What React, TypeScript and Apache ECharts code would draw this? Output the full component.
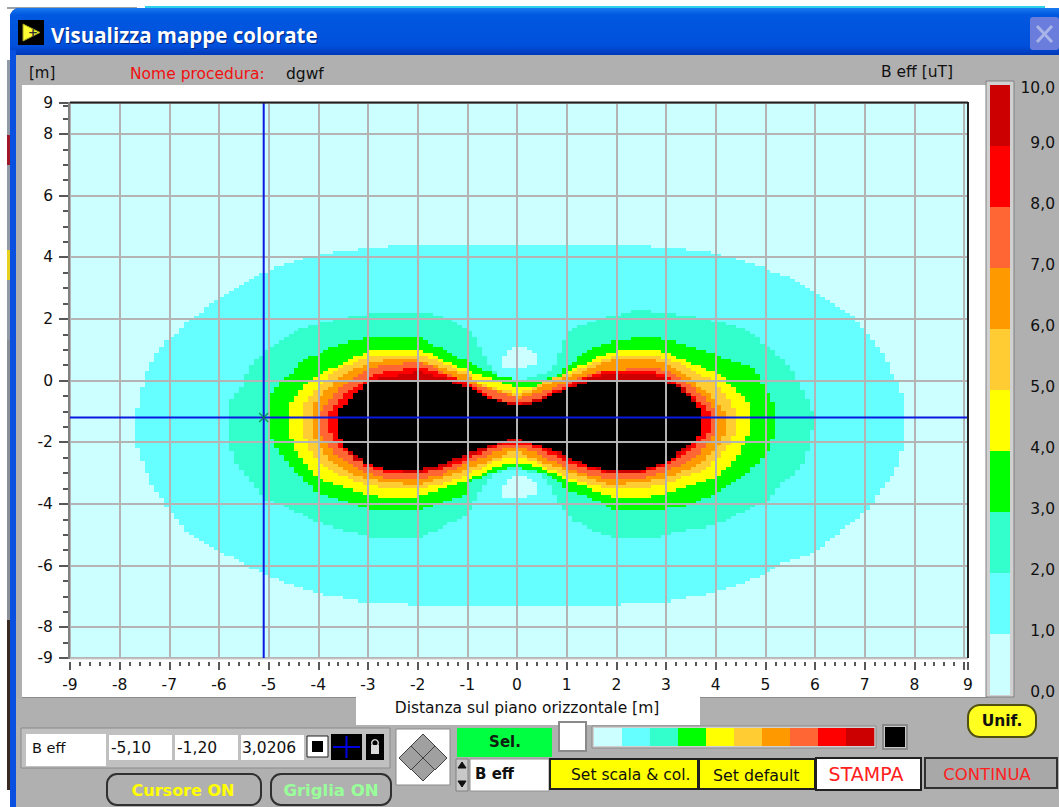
import React, { useEffect, useRef } from "react";
import * as echarts from "echarts";

type Pt = [number, number];

const xTickValues = [-9,-8,-7,-6,-5,-4,-3,-2,-1,0,1,2,3,4,5,6,7,8,9,9.08];
const yTickValues = [-9,-8,-6,-4,-2,0,2,4,6,8,9];
const yMinorValues = [-8.5,-7.5,-7,-6.5,-5.5,-5,-4.5,-3.5,-3,-2.5,-1.5,-1,-0.5,0.5,1,1.5,2.5,3,3.5,4.5,5,5.5,6.5,7,7.5,8.5,8.9];
const scaleLabels = ["0,0","1,0","2,0","3,0","4,0","5,0","6,0","7,0","8,0","9,0","10,0"];
const scaleColors = ["#ccffff","#66ffff","#33ffcc","#00ff00","#ffff00","#ffcc33","#ff9900","#ff6633","#ff0000","#cc0000"];
const overColor = "#000000";
const cursorX = -5.1;
const cursorY = -1.2;
const cursorValue = "3,0206";

// Contours of B eff: [distance m, height m]
const level1: Pt[] = [[0,4.42],[2.3,4.42],[3,4.32],[3.65,4.17],[4.2,3.96],[5,3.57],[5.45,3.25],[6,2.8],[6.67,2.05],[7.01,1.45],[7.3,1],[7.58,.02],[7.68,-.2],[7.78,-.72],[7.78,-2.05],[7.68,-2.65],[7.58,-3],[7.18,-3.85],[7.08,-4.2],[6.67,-4.75],[6,-5.6],[5.3,-6],[5,-6.3],[4.6,-6.6],[4,-6.86],[3,-7.19],[2.6,-7.25],[1.7,-7.3],[0,-7.3],[-1.7,-7.3],[-2.61,-7.25],[-2.98,-7.19],[-3.96,-6.86],[-4.63,-6.59],[-5,-6.32],[-5.4,-5.99],[-6,-5.55],[-6.61,-4.9],[-6.98,-4.24],[-7.11,-3.86],[-7.42,-3.2],[-7.62,-2.44],[-7.72,-2],[-7.72,-1.23],[-7.65,-.42],[-7.52,.24],[-7.32,.79],[-7.11,1.28],[-6.95,1.5],[-6.61,2.04],[-6.11,2.64],[-5.4,3.25],[-4.96,3.57],[-4.16,3.96],[-3.59,4.17],[-2.95,4.32],[-2.28,4.42]];
const blobUpper: Pt[] = [[-.31,.75],[-.14,1.07],[.14,1.07],[.38,.75],[.38,.46],[.2,.36],[-.2,.36],[-.31,.46]];
const blobLower: Pt[] = [[-.31,-3.45],[-.14,-3.1],[.14,-3.1],[.38,-3.45],[.38,-3.7],[.2,-3.8],[-.2,-3.8],[-.31,-3.7]];
const level2: Pt[] = [[0,.03],[.54,.19],[.74,.3],[.87,1.22],[1.04,1.6],[1.41,1.92],[1.88,2.14],[2.42,2.25],[3.36,2.13],[3.97,1.92],[4.58,1.55],[5.05,.95],[5.3,.65],[5.57,.05],[5.8,-.5],[5.89,-.92],[6.02,-1.25],[5.89,-2.1],[5.8,-2.6],[5.57,-3.1],[5.3,-3.4],[5.05,-3.86],[4.71,-4.18],[3.97,-4.72],[3.3,-4.95],[2.9,-5.06],[2,-5.06],[1.5,-4.84],[1.05,-4.46],[.85,-4.08],[.7,-3.48],[.45,-3.05],[0,-2.9],[-.45,-3.05],[-.7,-3.48],[-.86,-4.08],[-1.07,-4.46],[-1.54,-4.84],[-1.94,-5.06],[-2.95,-5.06],[-3.35,-4.95],[-3.96,-4.57],[-4.63,-4.13],[-4.96,-3.91],[-5.17,-3.58],[-5.7,-2.6],[-5.8,-2],[-5.82,-1.23],[-5.77,-.63],[-5.51,.02],[-5.4,.46],[-5.3,.68],[-5,1.11],[-4.63,1.5],[-4.19,1.77],[-3.59,2.04],[-2.95,2.21],[-2.48,2.24],[-1.94,2.19],[-1.27,1.93],[-1,1.55],[-.8,1.17],[-.63,.55],[-.45,.1]];
const level3: Pt[] = [[0,-.02],[.4,-.02],[.67,.09],[1,.46],[1.38,.95],[1.88,1.33],[2.56,1.42],[3.03,1.33],[3.7,1],[3.97,.84],[4.71,.36],[4.91,-.02],[5.05,-.56],[5.22,-1.05],[5.22,-1.7],[5.05,-2.18],[4.91,-2.67],[4.51,-3.16],[4,-3.7],[3.36,-4.08],[2.76,-4.24],[1.88,-4.18],[1.78,-4.02],[1,-3.54],[.67,-3.1],[.3,-2.9],[0,-2.83],[-.3,-2.9],[-.6,-3.15],[-.97,-3.43],[-1,-3.75],[-1.71,-4.13],[-2.01,-4.24],[-2.95,-4.24],[-3.29,-4.02],[-3.99,-3.59],[-4.63,-2.67],[-4.9,-2.08],[-5,-1.59],[-5,-1.23],[-4.96,-.42],[-4.83,-.03],[-4.63,.24],[-4.39,.57],[-3.89,.95],[-3.59,1.17],[-2.98,1.39],[-2.48,1.44],[-2.01,1.37],[-1.27,.84],[-.86,.46],[-.43,.08]];
const level4: Pt[] = [[0,-.2],[.25,-.16],[.47,-.02],[.81,.09],[1,.3],[1.48,.74],[2.02,.95],[2.83,.95],[3.43,.63],[3.97,.19],[4.31,-.24],[4.71,-.83],[4.71,-1.75],[4.51,-2.29],[4.17,-2.89],[3.97,-3.21],[3,-3.7],[2.56,-3.81],[2,-3.81],[1.48,-3.54],[1,-3.21],[.47,-2.83],[.2,-2.7],[0,-2.67],[-.2,-2.7],[-.54,-2.89],[-1,-3.32],[-1.48,-3.54],[-2.01,-3.81],[-2.62,-3.81],[-3,-3.72],[-3.59,-3.37],[-3.96,-3.21],[-4.4,-2.45],[-4.53,-2.08],[-4.62,-1.6],[-4.62,-.83],[-4.4,-.35],[-4.16,-.02],[-3.96,.24],[-3.55,.62],[-2.98,.95],[-2,.95],[-1.6,.73],[-1,.3],[-.66,.08],[-.29,-.09]];
const level5: Pt[] = [[0,-.36],[.2,-.3],[.4,-.13],[1,.19],[1.48,.63],[2.02,.79],[2.69,.79],[3.16,.57],[3.63,.19],[4,-.08],[4.34,-.78],[4.37,-1.22],[4.37,-1.7],[4.17,-2.35],[3.8,-2.94],[3,-3.37],[2.56,-3.54],[2,-3.54],[1.48,-3.37],[1,-3.1],[.47,-2.72],[.2,-2.55],[0,-2.51],[-.2,-2.55],[-.47,-2.72],[-1,-3.1],[-1.48,-3.37],[-2.01,-3.54],[-2.62,-3.54],[-3,-3.37],[-3.59,-3.05],[-3.96,-2.56],[-4.16,-2.13],[-4.3,-1.59],[-4.3,-.83],[-4,-.08],[-3.59,.41],[-3,.79],[-2.01,.79],[-1.61,.63],[-1,.19],[-.8,-.08],[-.34,-.29]];
const level6: Pt[] = [[0,-.48],[.2,-.42],[.4,-.24],[1,.14],[1.62,.52],[2.02,.74],[2.56,.74],[3,.52],[3.43,.14],[3.84,-.45],[4.1,-.89],[4.17,-1.22],[4.17,-1.7],[3.97,-2.29],[3.63,-2.78],[3,-3.16],[2.56,-3.34],[2,-3.37],[1.48,-3.21],[1,-2.94],[.47,-2.56],[.2,-2.4],[0,-2.35],[-.2,-2.4],[-.47,-2.56],[-1,-2.89],[-1.48,-3.21],[-2.01,-3.37],[-2.62,-3.32],[-3,-3.16],[-3.29,-2.99],[-3.69,-2.56],[-3.96,-2.08],[-4.09,-1.59],[-4.09,-.83],[-3.89,-.35],[-3.59,.14],[-3,.57],[-2.48,.74],[-2.08,.74],[-1.61,.41],[-1,.09],[-.67,-.18],[-.27,-.45]];
const level7: Pt[] = [[0,-.6],[.2,-.54],[.4,-.4],[1,-.02],[1.65,.3],[2.69,.36],[3,.25],[3.5,-.24],[3.9,-.83],[4,-1.22],[4,-1.7],[3.84,-2.18],[3.5,-2.62],[3,-2.99],[2.56,-3.16],[2,-3.21],[1.48,-3.1],[1,-2.78],[.47,-2.4],[.2,-2.23],[0,-2.18],[-.2,-2.23],[-.47,-2.4],[-1,-2.72],[-1.48,-3.1],[-2.01,-3.21],[-2.62,-3.16],[-3,-2.99],[-3.29,-2.72],[-3.59,-2.45],[-3.83,-2.08],[-3.96,-1.59],[-3.96,-.99],[-3.72,-.45],[-3.49,-.08],[-3,.36],[-2.62,.52],[-2.01,.57],[-1.61,.3],[-1,-.08],[-.6,-.35],[-.2,-.54]];
const level8: Pt[] = [[0,-.7],[.2,-.66],[.47,-.5],[1,-.13],[1.41,.14],[1.82,.25],[2.69,.25],[3,.09],[3.43,-.4],[3.77,-.89],[3.88,-1.22],[3.88,-1.64],[3.7,-1.97],[3.36,-2.45],[3,-2.83],[2.56,-3.02],[2,-3.05],[1.48,-2.94],[1,-2.56],[.47,-2.24],[.2,-2.12],[0,-2.08],[-.2,-2.12],[-.47,-2.24],[-1,-2.56],[-1.48,-2.89],[-2.01,-3.05],[-2.62,-2.99],[-3,-2.78],[-3.29,-2.45],[-3.59,-2.08],[-3.69,-1.81],[-3.79,-1.59],[-3.79,-.99],[-3.62,-.62],[-3.42,-.29],[-3,.14],[-2.62,.25],[-2.01,.36],[-1.61,.19],[-1,-.13],[-.54,-.56],[-.2,-.66]];
const level9: Pt[] = [[0,-.76],[.2,-.72],[.4,-.6],[1,-.2],[1.41,.05],[1.9,.22],[2.6,.2],[3,.03],[3.28,-.24],[3.6,-.75],[3.73,-1.22],[3.73,-1.6],[3.6,-2],[3.3,-2.42],[3,-2.73],[2.5,-2.97],[2,-3],[1.48,-2.84],[1,-2.46],[.47,-2.14],[.2,-2.02],[0,-1.97],[-.2,-2.02],[-.47,-2.17],[-1,-2.51],[-1.61,-2.88],[-2.01,-3],[-2.62,-2.94],[-3,-2.72],[-3.29,-2.5],[-3.52,-2.12],[-3.64,-1.7],[-3.64,-1.22],[-3.54,-.78],[-3.33,-.4],[-3,0],[-2.62,.14],[-2.01,.25],[-1.7,.14],[-1.3,.03],[-1,-.2],[-.6,-.6],[-.2,-.72]];
const level10: Pt[] = [[0,-.82],[.2,-.78],[.4,-.67],[1,-.24],[1.48,0],[2.9,0],[3.23,-.24],[3.57,-.78],[3.68,-1.22],[3.68,-1.59],[3.57,-1.97],[3.3,-2.35],[3,-2.67],[2.56,-2.89],[2,-2.94],[1.48,-2.78],[1,-2.4],[.47,-2.08],[.2,-1.96],[0,-1.91],[-.2,-1.96],[-.47,-2.11],[-1,-2.45],[-1.61,-2.83],[-2.01,-2.94],[-2.62,-2.89],[-3,-2.67],[-3.22,-2.45],[-3.49,-2.08],[-3.59,-1.7],[-3.59,-.94],[-3.49,-.78],[-3.29,-.45],[-3,-.04],[-2.82,0],[-1.48,0],[-1,-.24],[-.6,-.62],[-.2,-.78]];

const contourLayers: { name: string; outline: Pt[]; color: string }[] = [
  { name: "B eff > 1", outline: level1, color: scaleColors[1] },
  { name: "B eff < 1 (up)", outline: blobUpper, color: scaleColors[0] },
  { name: "B eff < 1 (down)", outline: blobLower, color: scaleColors[0] },
  { name: "B eff > 2", outline: level2, color: scaleColors[2] },
  { name: "B eff > 3", outline: level3, color: scaleColors[3] },
  { name: "B eff > 4", outline: level4, color: scaleColors[4] },
  { name: "B eff > 5", outline: level5, color: scaleColors[5] },
  { name: "B eff > 6", outline: level6, color: scaleColors[6] },
  { name: "B eff > 7", outline: level7, color: scaleColors[7] },
  { name: "B eff > 8", outline: level8, color: scaleColors[8] },
  { name: "B eff > 9", outline: level9, color: scaleColors[9] },
  { name: "B eff > 10", outline: level10, color: overColor },
];

// The source map is a raster of 0.1 m cells, so outlines are walked in cell-sized steps.
function stairs(outline: Pt[]): Pt[] {
  const out: Pt[] = [];
  const cells = outline.map(([x, y]) => [Math.round(x * 10), Math.round(y * 10)]);
  for (let i = 0; i < cells.length; i++) {
    const a = cells[i];
    const b = cells[(i + 1) % cells.length];
    const dx = b[0] - a[0];
    const dy = b[1] - a[1];
    const n = Math.max(Math.abs(dx), Math.abs(dy), 1);
    let cy = a[1];
    for (let k = 1; k <= n; k++) {
      const nx = a[0] + Math.round((dx * k) / n);
      const ny = a[1] + Math.round((dy * k) / n);
      out.push([nx / 10, cy / 10]);
      out.push([nx / 10, ny / 10]);
      cy = ny;
    }
  }
  return out;
}

const UI = '"DejaVu Sans", sans-serif';
const GRAY = "#b0b0b0";

function rect(x: number, y: number, w: number, h: number, fill: any, z = -5, r: any = 0, stroke?: string, lw = 1) {
  return { type: "rect", z, silent: true, shape: { x, y, width: w, height: h, r }, style: { fill, stroke, lineWidth: lw } };
}
function txt(text: string, x: number, y: number, fill: string, size = 14, align = "left", weight = "normal", z = 3, font = UI) {
  return { type: "text", z, silent: true, x, y, style: { text, fill, font: `${weight} ${size}px ${font}`, textAlign: align, textVerticalAlign: "middle" } };
}
function line(x1: number, y1: number, x2: number, y2: number, stroke: string, lw = 1, z = 8) {
  return { type: "line", z, silent: true, shape: { x1, y1, x2, y2 }, style: { stroke, lineWidth: lw } };
}
function poly(points: number[][], fill: string, stroke = "#404040", z = 1) {
  return { type: "polygon", z, silent: true, shape: { points }, style: { fill, stroke, lineWidth: 1 } };
}

function chrome(): any[] {
  const titleGrad = new echarts.graphic.LinearGradient(0, 0, 0, 1, [
    { offset: 0, color: "#1a7af0" }, { offset: 0.15, color: "#0058e0" },
    { offset: 0.8, color: "#0050dc" }, { offset: 1, color: "#0038b8" },
  ]);
  const cellW = 280 / scaleColors.length;
  return [
    rect(0, 0, 1059, 807, "#ffffff", -9),
    rect(7, 7, 130, 2, "#9aa0a8", -8),
    rect(145, 6, 900, 2, "#30d0e8", -8),
    rect(7, 60, 3, 280, "#8f9aa6", -8),
    rect(7, 135, 3, 30, "#a01828", -7),
    rect(7, 250, 3, 30, "#e8d020", -7),
    rect(7, 340, 3, 290, "#8a8f96", -8),
    rect(7, 620, 3, 170, "#3a2a22", -7),
    rect(10, 8, 1060, 60, "#0050dc", -8, [9, 9, 0, 0]),
    rect(10, 8, 1060, 47, titleGrad, -7, [9, 9, 0, 0]),
    rect(10, 50, 6, 757, "#0a50e0", -7),
    rect(16, 55, 1043, 752, GRAY, -6),
    // white plot panel
    rect(22, 85, 966, 612, "#ffffff", -5),
    rect(356, 697, 344, 28, "#ffffff", -5),
    line(22, 697.5, 356, 697.5, "#8c8c8c", 1, -4),
    line(700, 697.5, 988, 697.5, "#8c8c8c", 1, -4),
    // title
    rect(18, 20, 26, 25, "#000000", -4),
    poly([[23, 24], [23, 41], [40, 32.5]], "#ffff33", "#a0a020", -3),
    txt("+", 28, 33, "#303030", 12, "left", "bold"),
    txt("Visualizza mappe colorate", 52, 36, "#002880", 20.5, "left", "bold", 2, '"Open Sans", sans-serif'),
    txt("Visualizza mappe colorate", 51, 35, "#ffffff", 20.5, "left", "bold", 3, '"Open Sans", sans-serif'),
    rect(1030, 17, 29, 33, "#6a7cdc", -4, 3),
    line(1037, 26, 1052, 42, "#a9b4e8", 3, -3),
    line(1052, 26, 1037, 42, "#a9b4e8", 3, -3),
    txt("[m]", 29, 73, "#101010", 15),
    txt("Nome procedura:", 130, 74, "#f01010", 15.5),
    txt("dgwf", 286, 74, "#101010", 15.5),
    txt("B eff [uT]", 881, 72, "#101010", 15.5),
    txt("Distanza sul piano orizzontale [m]", 527, 708, "#101010", 15.5, "center"),
    // scale frame
    rect(986, 81, 28, 616, "#d0d0d0", -4, 0, "#808080"),
    // cursor panel
    rect(21, 728, 369, 40, "#c0c0c0", -4, 0, "#8a8a8a"),
    rect(26, 734, 80, 32, "#ffffff", -3),
    rect(109, 735, 63, 25, "#ffffff", -3),
    rect(175, 735, 63, 25, "#ffffff", -3),
    rect(241, 735, 63, 25, "#ffffff", -3),
    txt("B eff", 32, 748, "#101010", 14.5),
    txt("-5,10", 111, 748, "#101010", 15.5),
    txt("-1,20", 177, 748, "#101010", 15.5),
    txt(cursorValue, 242, 748, "#101010", 15.5),
    rect(307, 736, 21, 21, "#ffffff", -3, 0, "#202020"),
    rect(312, 741, 11, 11, "#000000", -2),
    rect(331, 734, 31, 26, "#000000", -3),
    line(333, 747, 360, 747, "#0000e0", 2, -2),
    line(346.5, 736, 346.5, 758, "#0000e0", 2, -2),
    rect(366, 734, 18, 26, "#000000", -3),
    rect(371, 745, 8, 9, "#d8d8d8", -2),
    { type: "ring", z: -2, silent: true, shape: { cx: 375, cy: 743, r: 4, r0: 2.6 }, style: { fill: "#d8d8d8" } },
    rect(107, 774, 154, 31, GRAY, -3, 10, "#303030", 2),
    rect(271, 774, 120, 31, GRAY, -3, 10, "#303030", 2),
    txt("Cursore ON", 183, 790, "#ffff00", 16, "center", "bold"),
    txt("Griglia ON", 331, 790, "#99ff99", 16.5, "center", "bold"),
    // direction pad
    rect(396, 729, 54, 56, "#ffffff", -3, 0, "#8a8a8a"),
    poly([[423, 734], [435, 746], [423, 758], [411, 746]], "#a0a0a0"),
    poly([[423, 757], [435, 769], [423, 781], [411, 769]], "#a0a0a0"),
    poly([[411, 746], [423, 758], [411, 770], [399, 758]], "#a0a0a0"),
    poly([[435, 746], [447, 758], [435, 770], [423, 758]], "#a0a0a0"),
    // selector
    rect(457, 728, 95, 29, "#00ff40", -3),
    txt("Sel.", 505, 742, "#102010", 15, "center", "bold"),
    rect(456, 759, 12, 32, "#c8c8c8", -3, 0, "#808080"),
    poly([[458, 768], [466, 768], [462, 762]], "#101010", "#101010"),
    poly([[458, 781], [466, 781], [462, 787]], "#101010", "#101010"),
    rect(470, 759, 79, 32, "#ffffff", -3, 0, "#909090"),
    txt("B eff", 475, 774, "#101010", 15, "left", "bold"),
    // colour strip
    rect(559, 722, 27, 29, "#ffffff", -3, 0, "#8a8a8a", 2),
    rect(592, 726, 284, 22, "#d0d0d0", -3, 0, "#8a8a8a"),
    ...scaleColors.map((c, i) => rect(594 + i * cellW, 728, cellW + 0.3, 18, c, -2)),
    rect(883, 725, 24, 24, "#c8c8c8", -3, 0, "#8a8a8a", 2),
    rect(885, 727, 20, 20, "#000000", -2),
    // buttons
    rect(968, 705, 68, 32, "#ffff20", -3, 12, "#505010", 2),
    txt("Unif.", 1002, 721, "#101010", 15.5, "center", "bold"),
    rect(550, 759, 148, 30, "#ffff00", -3, 0, "#202020", 2),
    txt("Set scala & col.", 571, 775, "#101010", 15.5),
    rect(699, 759, 116, 30, "#ffff00", -3, 0, "#202020", 2),
    txt("Set default", 713, 775, "#101010", 15.8),
    rect(816, 758, 105, 32, "#ffffff", -3, 0, "#202020", 2),
    txt("STAMPA", 866, 774, "#ff2020", 19, "center"),
    rect(925, 758, 132, 30, "#a8a8a8", -3, 0, "#303030", 2),
    txt("CONTINUA", 987, 774, "#ff2020", 16.5, "center"),
    // plot frame
    line(70, 102.5, 968, 102.5, "#202020", 2),
    line(968, 102, 968, 658, "#202020", 2),
    line(69, 102, 69, 659, "#808080", 2),
    line(70, 659, 968, 659, "#d0d0d0", 1),
  ];
}

export default function App() {
  const ref = useRef<HTMLDivElement>(null);
  useEffect(() => {
    document.body.style.margin = "0";
    const chart = echarts.init(ref.current!, undefined, { renderer: "svg" });
    const gridLine = { show: true, lineStyle: { color: "#b4b4b4", width: 2 } };
    const axisText = { color: "#101010", fontFamily: UI, fontSize: 15.5 };
    const noLine = { show: false, onZero: false };
    const tickLine = { color: "#202020", width: 1.5 };
    const xMinor: number[] = [];
    for (let i = -90; i < 90; i += 2) if (i % 10 !== 0) xMinor.push(i / 10);

    const contourSeries = contourLayers.map((layer) => ({
      type: "custom",
      name: layer.name,
      xAxisIndex: 0,
      yAxisIndex: 0,
      z: 2,
      silent: true,
      clip: true,
      data: [[0]],
      renderItem: (_: any, api: any) => ({
        type: "polygon",
        shape: { points: stairs(layer.outline).map((p) => {
          const c = api.coord(p);
          return [Math.round(c[0]), Math.round(c[1])];
        }) },
        style: { fill: layer.color },
      }),
    }));

    chart.setOption({
      animation: false,
      backgroundColor: "transparent",
      grid: [
        { left: 70, top: 103, width: 898, height: 555, show: true, backgroundColor: scaleColors[0], borderWidth: 0 },
        { left: 990, top: 85, width: 20, height: 610, show: false },
      ],
      xAxis: [
        {
          type: "value", gridIndex: 0, min: -9, max: 9.08, z: 5,
          position: "bottom", offset: 4,
          axisLine: noLine,
          axisTick: { show: true, length: 8, lineStyle: tickLine, customValues: xTickValues },
          axisLabel: { ...axisText, margin: 15, customValues: xTickValues.filter((v) => v !== 9),
            formatter: (v: number) => (v > 9 ? "9" : String(v)) },
          splitLine: gridLine,
        },
        {
          type: "value", gridIndex: 0, min: -9, max: 9.08, z: 5,
          position: "bottom", offset: 4,
          axisLine: noLine,
          axisTick: { show: true, length: 4, lineStyle: tickLine, customValues: xMinor },
          axisLabel: { show: false },
          splitLine: { show: false },
        },
        { type: "value", gridIndex: 1, min: 0, max: 1, show: false },
      ],
      yAxis: [
        {
          type: "value", gridIndex: 0, min: -9, max: 9, z: 5,
          position: "left", offset: 2,
          axisLine: noLine,
          axisTick: { show: true, length: 9, lineStyle: tickLine, customValues: yTickValues },
          axisLabel: { ...axisText, margin: 15, customValues: yTickValues },
          splitLine: gridLine,
        },
        {
          type: "value", gridIndex: 0, min: -9, max: 9, z: 5,
          position: "left", offset: 2,
          axisLine: noLine,
          axisTick: { show: true, length: 5, lineStyle: tickLine, customValues: yMinorValues },
          axisLabel: { show: false },
          splitLine: { show: false },
        },
        {
          type: "value", gridIndex: 1, min: 0, max: 10, interval: 1, position: "right", offset: 0,
          axisLine: noLine, axisTick: { show: false }, splitLine: { show: false },
          axisLabel: { ...axisText, margin: 45, align: "right", verticalAlign: "bottom", lineHeight: 6, verticalAlignMaxLabel: "top",
            formatter: (v: number) => scaleLabels[Math.round(v)] },
        },
      ],
      series: [
        ...contourSeries,
        {
          type: "line", name: "Cursore X", xAxisIndex: 0, yAxisIndex: 0, z: 6, silent: true, symbol: "none",
          lineStyle: { color: "#0a18e0", width: 2 },
          data: [[cursorX, -9], [cursorX, 9]],
        },
        {
          type: "line", name: "Cursore Y", xAxisIndex: 0, yAxisIndex: 0, z: 6, silent: true, symbol: "none",
          lineStyle: { color: "#0a18e0", width: 2 },
          data: [[-9, cursorY], [9.08, cursorY]],
        },
        {
          type: "scatter", name: "Cursore", xAxisIndex: 0, yAxisIndex: 0, z: 7, silent: true,
          symbol: "path://M0,0L10,10M10,0L0,10", symbolSize: 9,
          itemStyle: { color: "transparent", borderColor: "#108040", borderWidth: 1.5 },
          data: [[cursorX, cursorY]],
        },
        {
          type: "custom", name: "Scala", xAxisIndex: 2, yAxisIndex: 2, z: 2, silent: true,
          data: scaleColors.map((_, i) => [i]),
          renderItem: (_: any, api: any) => {
            const i = api.value(0);
            const a = api.coord([0, i + 1]);
            const b = api.coord([1, i]);
            return { type: "rect", shape: { x: a[0], y: a[1], width: b[0] - a[0], height: b[1] - a[1] }, style: { fill: scaleColors[i] } };
          },
        },
      ],
      graphic: { elements: chrome() },
    });
    return () => chart.dispose();
  }, []);
  return <div ref={ref} style={{ position: "absolute", left: 0, top: 0, width: 1059, height: 807 }} />;
}
